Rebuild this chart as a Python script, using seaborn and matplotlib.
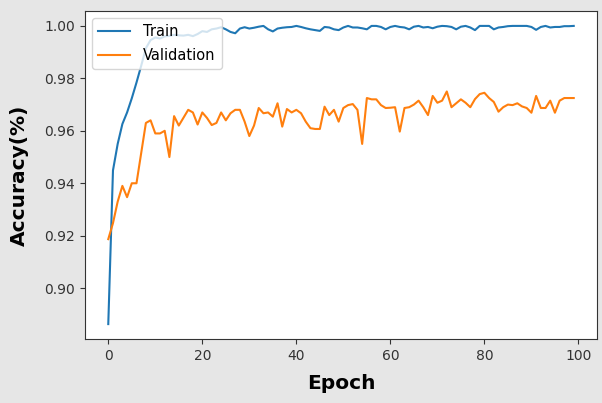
import numpy as np
import pandas as pd
import matplotlib
matplotlib.use("Agg")
import matplotlib.pyplot as plt
import seaborn as sns

# Per-epoch accuracy history
epochs = list(range(100))

train_acc = [
    0.8863, 0.9449, 0.9550, 0.9626, 0.9670, 0.9724, 0.9784, 0.9848, 0.9915, 0.9946,
    0.9956, 0.9952, 0.9960, 0.9962, 0.9966, 0.9964, 0.9963, 0.9966, 0.9961, 0.9969,
    0.9980, 0.9977, 0.9987, 0.9990, 0.9995, 0.9987, 0.9977, 0.9972, 0.9990, 0.9995,
    0.9990, 0.9993, 0.9997, 1.0000, 0.9987, 0.9979, 0.9990, 0.9993, 0.9995, 0.9996,
    1.0000, 0.9996, 0.9991, 0.9987, 0.9984, 0.9981, 0.9996, 0.9994, 0.9987, 0.9984,
    0.9994, 1.0000, 0.9994, 0.9994, 0.9991, 0.9987, 1.0000, 1.0000, 0.9996, 0.9987,
    0.9996, 1.0000, 0.9996, 0.9994, 0.9987, 0.9997, 1.0000, 0.9994, 0.9996, 0.9991,
    0.9997, 1.0000, 0.9999, 0.9996, 0.9987, 0.9997, 1.0000, 0.9994, 0.9984, 1.0000,
    1.0000, 1.0000, 0.9987, 0.9994, 0.9996, 0.9999, 1.0000, 1.0000, 1.0000, 1.0000,
    0.9996, 0.9985, 0.9996, 1.0000, 0.9994, 0.9996, 0.9996, 0.9999, 0.9999, 1.0000,
]

val_acc = [
    0.9187, 0.9248, 0.9330, 0.9390, 0.9347, 0.9400, 0.9400, 0.9515, 0.9630, 0.9640,
    0.9590, 0.9590, 0.9600, 0.9500, 0.9656, 0.9620, 0.9650, 0.9680, 0.9670, 0.9624,
    0.9670, 0.9649, 0.9622, 0.9630, 0.9670, 0.9640, 0.9667, 0.9680, 0.9680, 0.9635,
    0.9580, 0.9620, 0.9687, 0.9667, 0.9670, 0.9654, 0.9705, 0.9616, 0.9683, 0.9670,
    0.9680, 0.9667, 0.9635, 0.9610, 0.9607, 0.9607, 0.9692, 0.9660, 0.9680, 0.9635,
    0.9687, 0.9698, 0.9702, 0.9680, 0.9550, 0.9725, 0.9720, 0.9720, 0.9698, 0.9687,
    0.9688, 0.9690, 0.9597, 0.9687, 0.9690, 0.9700, 0.9715, 0.9690, 0.9660, 0.9733,
    0.9707, 0.9715, 0.9750, 0.9690, 0.9705, 0.9720, 0.9707, 0.9690, 0.9721, 0.9740,
    0.9745, 0.9725, 0.9710, 0.9673, 0.9690, 0.9700, 0.9698, 0.9705, 0.9693, 0.9687,
    0.9669, 0.9733, 0.9687, 0.9687, 0.9715, 0.9669, 0.9715, 0.9725, 0.9725, 0.9725,
]

series_names = ["Train", "Validation"]
series_colors = ["#1f77b4", "#ff7f0e"]

history = pd.DataFrame({"epoch": epochs, "Train": train_acc, "Validation": val_acc})

fig = plt.figure(figsize=(6.02, 4.03), dpi=100, facecolor="#e6e6e6")
ax = fig.add_axes([0.1412, 0.1588, 0.8505, 0.8139])
ax.set_facecolor("white")

for name, color in zip(series_names, series_colors):
    sns.lineplot(data=history, x="epoch", y=name, color=color, linewidth=1.5,
                 label=name, ax=ax)

ax.set_xlabel("Epoch", fontsize=14.5, fontweight="bold", labelpad=8)
ax.set_ylabel("Accuracy(%)", fontsize=14.5, fontweight="bold", labelpad=11)
ax.set_xticks([0, 20, 40, 60, 80, 100])
ax.set_yticks([0.90, 0.92, 0.94, 0.96, 0.98, 1.00])
ax.set_yticklabels(["0.90", "0.92", "0.94", "0.96", "0.98", "1.00"])
ax.tick_params(labelsize=10, colors="#333333")
for sp in ax.spines.values():
    sp.set_color("#333333")

ax.legend(loc="upper left", fontsize=10.5, labelspacing=0.6,
          handlelength=2.2, handletextpad=0.9)

fig.savefig("out.png", dpi=100, facecolor=fig.get_facecolor())
